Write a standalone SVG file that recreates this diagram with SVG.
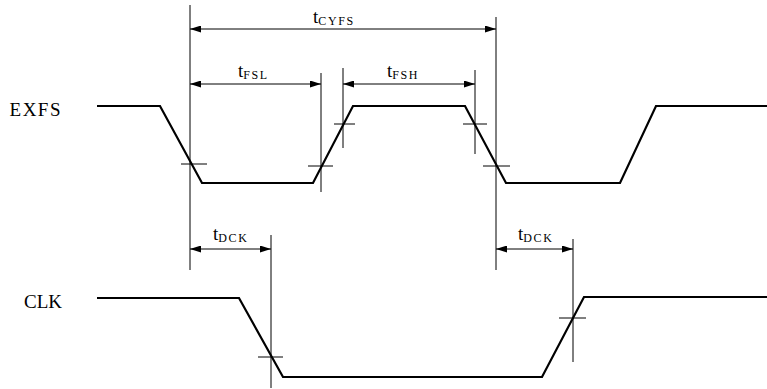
<svg xmlns="http://www.w3.org/2000/svg" width="767" height="389" viewBox="0 0 767 389">
  <defs>
    <marker id="ah" viewBox="0 0 11 7" refX="11" refY="3.5" markerWidth="11" markerHeight="7" markerUnits="userSpaceOnUse" orient="auto-start-reverse">
      <path d="M0,0 L11,3.5 L0,7 Z" fill="#000"/>
    </marker>
    <style>
      .wave { fill: none; stroke: #000; stroke-width: 2.2; stroke-linejoin: miter; }
      .ref { stroke: #000; stroke-width: 1; fill: none; }
      .dim { stroke: #000; stroke-width: 1; fill: none; marker-start: url(#ah); marker-end: url(#ah); }
      .lbl { font-family: "Liberation Serif", "Times New Roman", serif; font-size: 19px; fill: #000; }
      .t { font-family: "Liberation Serif", "Times New Roman", serif; font-size: 19px; fill: #000; }
      .sub { font-size: 12px; letter-spacing: 1.6px; }
    </style>
  </defs>
  <rect width="767" height="389" fill="#fff"/>

  <g id="exfs">
    <text class="lbl" x="62" y="116" text-anchor="end" letter-spacing="1.5">EXFS</text>
    <path class="wave" d="M97,106 H160 L202,183 H313 L353,106 H465 L506,183 H620 L656,106 H767"/>
  </g>

  <g id="clk">
    <text class="lbl" x="62" y="308" text-anchor="end">CLK</text>
    <path class="wave" d="M97,298 H239 L283,377 H542 L584,297 H767"/>
  </g>

  <g id="connectors">
    <path class="ref" d="M190,5 V270 M321,73 V192 M343,68 V148 M475,70 V154 M496,17 V270 M271,235 V388 M573,239 V362"/>
    <path class="ref" d="M181,164 H207 M308,166 H333 M334,124 H355 M463,124 H487 M483,166 H510 M258,357 H283 M559,318 H586"/>
    <line class="dim" x1="190" y1="29" x2="496" y2="29"/>
    <line class="dim" x1="190" y1="84" x2="321" y2="84"/>
    <line class="dim" x1="343" y1="84" x2="475" y2="84"/>
    <line class="dim" x1="190" y1="249" x2="271" y2="249"/>
    <line class="dim" x1="496" y1="249" x2="573" y2="249"/>
  </g>

  <g id="labels">
    <text class="t" x="313" y="23">t<tspan class="sub" dy="2">CYFS</tspan></text>
    <text class="t" x="238" y="77">t<tspan class="sub" dy="2">FSL</tspan></text>
    <text class="t" x="387" y="77">t<tspan class="sub" dy="2">FSH</tspan></text>
    <text class="t" x="213" y="240">t<tspan class="sub" dy="2">DCK</tspan></text>
    <text class="t" x="518" y="240">t<tspan class="sub" dy="2">DCK</tspan></text>
  </g>
</svg>
